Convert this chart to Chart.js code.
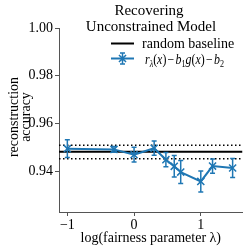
<!DOCTYPE html>
<html>
<head>
<meta charset="utf-8">
<script src="https://cdn.jsdelivr.net/npm/chart.js@4"></script>
<style>
  body { margin: 0; background: #fff; }
</style>
</head>
<body>
<canvas id="chart" width="249" height="247"></canvas>
<script>
// data
const lambdas = [0.1, 0.5, 1, 2, 3, 4, 5, 10, 15, 30];
const accuracy = [0.9495, 0.9492, 0.9470, 0.9497, 0.9449, 0.9421, 0.9397, 0.9358, 0.9422, 0.9414];
const errors = [0.0037, 0.0012, 0.0031, 0.0030, 0.0030, 0.0045, 0.0048, 0.0044, 0.0030, 0.0040];
const baseline = 0.9482;
const baselineLow = 0.9453;
const baselineHigh = 0.9509;
const xTicks = [-1, 0, 1];
const yTicks = [0.94, 0.96, 0.98, 1.00];
const xRange = [-1.125, 1.625];
const yRange = [0.923, 1.0];

const logLambda = lambdas.map(l => Math.log10(l));
const blue = "#1f77b4";
const serif = '"Liberation Serif", "DejaVu Serif", serif';

const hline = (val) => xRange.map(v => ({ x: v, y: val }));

// error bars, drawn through the scales
const errorBars = {
  id: "errorBars",
  afterDatasetsDraw(chart) {
    const { ctx, scales: { x, y } } = chart;
    ctx.save();
    ctx.strokeStyle = blue;
    ctx.lineWidth = 1.5;
    logLambda.forEach((v, i) => {
      const px = x.getPixelForValue(v);
      const top = y.getPixelForValue(accuracy[i] + errors[i]);
      const bot = y.getPixelForValue(accuracy[i] - errors[i]);
      ctx.beginPath();
      ctx.moveTo(px, top); ctx.lineTo(px, bot);
      ctx.moveTo(px - 2.5, top); ctx.lineTo(px + 2.5, top);
      ctx.moveTo(px - 2.5, bot); ctx.lineTo(px + 2.5, bot);
      ctx.stroke();
    });
    ctx.restore();
  }
};

// title, y label and legend (legend sits inside the axes like matplotlib)
const annotations = {
  id: "annotations",
  afterDraw(chart) {
    const ctx = chart.ctx;
    ctx.save();
    ctx.fillStyle = "#000";
    ctx.textAlign = "center";
    ctx.font = "15px " + serif;
    ctx.fillText("Recovering", 149, 15);
    ctx.fillText("Unconstrained Model", 151, 30.5);

    // y axis label, two lines
    ctx.save();
    ctx.font = "14px " + serif;
    ctx.translate(0, 117);
    ctx.rotate(-Math.PI / 2);
    ctx.fillText("reconstruction", 0, 17.5);
    ctx.fillText("accuracy", 0, 29.5);
    ctx.restore();

    // legend entry 1
    ctx.strokeStyle = "#000";
    ctx.lineWidth = 2;
    ctx.beginPath();
    ctx.moveTo(111, 43.5); ctx.lineTo(134, 43.5);
    ctx.stroke();
    ctx.textAlign = "left";
    ctx.font = "14px " + serif;
    ctx.fillText("random baseline", 142, 47.5);

    // legend entry 2
    const ly = 58.5;
    ctx.strokeStyle = blue;
    ctx.beginPath();
    ctx.moveTo(111, ly); ctx.lineTo(134, ly);
    ctx.stroke();
    ctx.lineWidth = 1.5;
    ctx.beginPath();
    ctx.moveTo(122.5, ly - 5.5); ctx.lineTo(122.5, ly + 5.5);
    ctx.moveTo(120, ly - 5.5); ctx.lineTo(125, ly - 5.5);
    ctx.moveTo(120, ly + 5.5); ctx.lineTo(125, ly + 5.5);
    const r = 5, d = r * Math.SQRT1_2;
    ctx.moveTo(122.5 - d, ly - d); ctx.lineTo(122.5 + d, ly + d);
    ctx.moveTo(122.5 - d, ly + d); ctx.lineTo(122.5 + d, ly - d);
    ctx.stroke();

    // r_λ(x) − b_1 g(x) − b_2, squeezed to the reference width
    const parts = [
      ["r", "i"], ["λ", "si"], ["(", "n"], ["x", "i"], [")", "n"], ["−", "m"],
      ["b", "i"], ["1", "s"], ["g", "i"], ["(", "n"], ["x", "i"], [")", "n"], ["−", "m"],
      ["b", "i"], ["2", "s"]
    ];
    const fontFor = s => (s.endsWith("i") ? "italic " : "") + (s.startsWith("s") ? "9.5px " : "14px ") + serif;
    const widthOf = ([t, s]) => {
      ctx.font = fontFor(s);
      return ctx.measureText(t).width + (s === "m" ? 3 : 0);
    };
    const total = parts.reduce((a, p) => a + widthOf(p), 0);
    ctx.translate(145, 0);
    ctx.scale(79 / total, 1);
    let tx = 0;
    const base = ly + 5;
    parts.forEach(p => {
      const [t, s] = p;
      ctx.font = fontFor(s);
      ctx.fillText(t, tx + (s === "m" ? 1.5 : 0), s.startsWith("s") ? base + 3 : base);
      tx += widthOf(p);
    });
    ctx.restore();
  }
};

const axisColor = "#555";

new Chart(document.getElementById("chart"), {
  type: "line",
  data: {
    datasets: [
      {
        data: logLambda.map((v, i) => ({ x: v, y: accuracy[i] })),
        borderColor: blue,
        backgroundColor: blue,
        borderWidth: 2,
        pointStyle: "crossRot",
        pointRadius: 5,
        pointBorderWidth: 1.5,
        tension: 0
      },
      {
        data: hline(baseline),
        borderColor: "#000",
        borderWidth: 2,
        pointRadius: 0
      },
      {
        data: hline(baselineHigh),
        borderColor: "#000",
        borderWidth: 1.5,
        borderDash: [1.5, 2.5],
        pointRadius: 0
      },
      {
        data: hline(baselineLow),
        borderColor: "#000",
        borderWidth: 1.5,
        borderDash: [1.5, 2.5],
        pointRadius: 0
      }
    ]
  },
  options: {
    responsive: false,
    animation: false,
    layout: { padding: { top: 28, right: 2, left: 0, bottom: 0 } },
    plugins: {
      legend: { display: false },
      title: { display: false },
      tooltip: { enabled: false }
    },
    scales: {
      x: {
        type: "linear",
        min: xRange[0],
        max: xRange[1],
        afterBuildTicks: s => { s.ticks = xTicks.map(v => ({ value: v })); },
        afterFit: s => { s.height = 35; },
        ticks: {
          color: "#000",
          font: { family: serif, size: 14 },
          padding: 1,
          maxRotation: 0,
          callback: v => (v < 0 ? "\u2212" + Math.abs(v) : String(v))
        },
        grid: { drawOnChartArea: false, tickLength: 4, color: axisColor },
        border: { color: axisColor, width: 1 },
        title: {
          display: true,
          text: "log(fairness parameter λ)",
          color: "#000",
          font: { family: serif, size: 14 },
          padding: { top: 0, bottom: 0 }
        }
      },
      y: {
        min: yRange[0],
        max: yRange[1],
        afterBuildTicks: s => { s.ticks = yTicks.map(v => ({ value: v })); },
        afterFit: s => { s.width = 59; },
        ticks: {
          color: "#000",
          font: { family: serif, size: 14 },
          padding: 2,
          callback: v => v.toFixed(2)
        },
        grid: { drawOnChartArea: false, tickLength: 4, color: axisColor },
        border: { color: axisColor, width: 1 }
      }
    }
  },
  plugins: [errorBars, annotations]
});
</script>
</body>
</html>
